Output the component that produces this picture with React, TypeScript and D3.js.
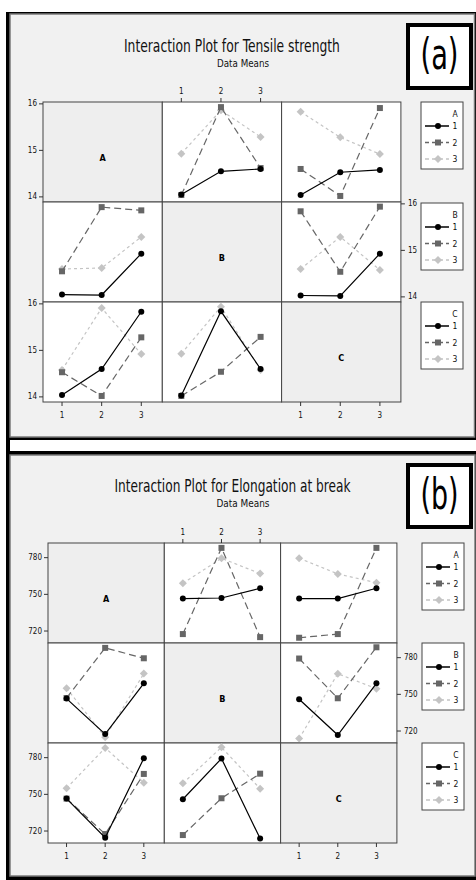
import React from "react";
import * as d3 from "d3";

const factorNames = ["A", "B", "C"];
const levelValues = [1, 2, 3];
const levelLabels = ["1", "2", "3"];

const tensileTitle = "Interaction Plot for Tensile strength";
const elongTitle = "Interaction Plot for Elongation at break";
const subtitleText = "Data Means";

// means[level of first factor][level of second factor]
const tensileAB = [
  [14.05, 14.55, 14.6],
  [14.04, 15.93, 14.62],
  [14.93, 15.86, 15.29],
];
const tensileAC = [
  [14.04, 14.53, 14.58],
  [14.6, 14.02, 15.91],
  [15.83, 15.28, 14.92],
];
const tensileBC = [
  [14.03, 14.02, 14.93],
  [15.84, 14.54, 15.94],
  [14.6, 15.29, 14.58],
];
const tensileTicks = [14, 15, 16];

const elongAB = [
  [746.5, 747, 755],
  [717.5, 788, 715],
  [759, 779.5, 767],
];
const elongAC = [
  [746.5, 746.5, 755],
  [714.5, 717.5, 788],
  [779.5, 766.7, 759.5],
];
const elongBC = [
  [746, 716.7, 759],
  [779.3, 746.8, 788.5],
  [713.8, 766.9, 754.6],
];
const elongTicks = [720, 750, 780];

const FONT = "'Liberation Sans Narrow', 'DejaVu Sans Condensed', 'Roboto Condensed', 'Liberation Sans', sans-serif";

const seriesStyles = [
  { color: "#000000", dash: "none", shape: "circle" },
  { color: "#666666", dash: "7,4", shape: "square" },
  { color: "#c4c4c4", dash: "3,3", shape: "diamond" },
];

function Marker({ x, y, shape, color, s = 1 }: any) {
  if (shape === "circle") return <circle cx={x} cy={y} r={3 * s} fill={color} />;
  if (shape === "square")
    return <rect x={x - 3 * s} y={y - 3 * s} width={6 * s} height={6 * s} fill={color} />;
  const d = 4 * s;
  return <path d={`M${x},${y - d}L${x + d},${y}L${x},${y + d}L${x - d},${y}Z`} fill={color} />;
}

function Figure({ cfg, pairs, ticks, title, tag }: any) {
  const { frame, inner, gx, gy, cw, ch, yDomain, lx, ltops, tagBox, titleY, titleLen, subY, subLen, tickFmt } = cfg;
  const xs = d3.scaleLinear().domain([0.52, 3.53]).range([0, cw]);
  const getMeans = (r: number, c: number) => {
    const key = r < c ? `${r}${c}` : `${c}${r}`;
    const m = pairs[key];
    return levelValues.map((_, i) =>
      levelValues.map((__, j) => (r < c ? m[i][j] : m[j][i]))
    );
  };
  const cells: any[] = [];
  for (let r = 0; r < 3; r++) {
    for (let c = 0; c < 3; c++) {
      const x0 = gx + c * cw;
      const y0 = gy + r * ch;
      const ys = d3.scaleLinear().domain(yDomain).range([y0 + ch, y0]);
      if (r === c) {
        cells.push(
          <g key={`${r}${c}`}>
            <rect x={x0} y={y0} width={cw} height={ch} fill="#eeeeee" stroke="#444" strokeWidth={1} />
            <text x={x0 + cw / 2} y={y0 + ch / 2 + 6} textAnchor="middle" dominantBaseline="central"
              fontFamily={FONT} fontSize={9} fontWeight="bold">{factorNames[r]}</text>
          </g>
        );
        continue;
      }
      const means = getMeans(r, c);
      const line = d3.line<number>().x((_, j) => x0 + xs(levelValues[j])).y((v) => ys(v));
      cells.push(
        <g key={`${r}${c}`}>
          <rect x={x0} y={y0} width={cw} height={ch} fill="#ffffff" stroke="#444" strokeWidth={1} />
          {[2, 1, 0].map((i) => (
            <g key={i}>
              <path d={line(means[i]) as string} fill="none" stroke={seriesStyles[i].color}
                strokeWidth={1.2} strokeDasharray={seriesStyles[i].dash} />
              {means[i].map((v, j) => (
                <Marker key={j} x={x0 + xs(levelValues[j])} y={ys(v)} shape={seriesStyles[i].shape}
                  color={seriesStyles[i].color} />
              ))}
            </g>
          ))}
        </g>
      );
    }
  }
  const axes: any[] = [];
  for (let r = 0; r < 3; r++) {
    const y0 = gy + r * ch;
    const ys = d3.scaleLinear().domain(yDomain).range([y0 + ch, y0]);
    const right = r === 1;
    const ax = right ? gx + 3 * cw : gx;
    ticks.forEach((t: number) => {
      const ty = ys(t);
      axes.push(
        <g key={`y${r}${t}`}>
          <line x1={ax} x2={right ? ax + 4 : ax - 4} y1={ty} y2={ty} stroke="#333" strokeWidth={1} />
          <text x={right ? ax + 7 : ax - 6} y={ty} textAnchor={right ? "start" : "end"}
            dominantBaseline="central" fontFamily={FONT} fontSize={8} fill="#111">{tickFmt(t)}</text>
        </g>
      );
    });
  }
  const xAxisCols = [
    { c: 1, top: true },
    { c: 0, top: false },
    { c: 2, top: false },
  ];
  xAxisCols.forEach(({ c, top }) => {
    const x0 = gx + c * cw;
    const yb = top ? gy : gy + 3 * ch;
    levelValues.forEach((v, j) => {
      const tx = x0 + xs(v);
      axes.push(
        <g key={`x${c}${j}`}>
          <line x1={tx} x2={tx} y1={yb} y2={top ? yb - 4 : yb + 4} stroke="#333" strokeWidth={1} />
          <text x={tx} y={top ? yb - 11 : yb + 13} textAnchor="middle" dominantBaseline="central"
            fontFamily={FONT} fontSize={8} fill="#111">{levelLabels[j]}</text>
        </g>
      );
    });
  });
  const legends = ltops.map((ly: number, r: number) => (
    <g key={`lg${r}`}>
      <rect x={lx} y={ly} width={42} height={67} fill="#ffffff" stroke="#444" strokeWidth={1} />
      <text x={lx + 34} y={ly + 12} textAnchor="middle" dominantBaseline="central" fontFamily={FONT}
        fontSize={8.5} fill="#111">{factorNames[r]}</text>
      {levelLabels.map((lab, i) => {
        const yy = ly + 24 + i * 16.5;
        return (
          <g key={i}>
            <line x1={lx + 4} x2={lx + 28} y1={yy} y2={yy} stroke={seriesStyles[i].color}
              strokeWidth={1.5} strokeDasharray={seriesStyles[i].dash === "none" ? "none" : "4,3"} />
            <Marker x={lx + 17} y={yy} shape={seriesStyles[i].shape} color={seriesStyles[i].color} />
            <text x={lx + 34} y={yy} textAnchor="middle" dominantBaseline="central" fontFamily={FONT}
              fontSize={8.5} fill="#111">{lab}</text>
          </g>
        );
      })}
    </g>
  ));
  return (
    <g>
      <rect x={frame[0]} y={frame[1]} width={frame[2] - frame[0]} height={frame[3] - frame[1]} fill="#000" />
      <rect x={inner[0]} y={inner[1]} width={inner[2] - inner[0]} height={inner[3] - inner[1]}
        fill="#f1f1f1" stroke="#7a7a7a" strokeWidth={1.5} />
      <text x={(gx + gx + 3 * cw) / 2 + 10} y={titleY} textAnchor="middle" fontFamily={FONT} fontSize={17}
        textLength={titleLen} lengthAdjust="spacingAndGlyphs" fill="#111">{title}</text>
      <text x={243} y={subY} textAnchor="middle" fontFamily={FONT} fontSize={10.5}
        textLength={subLen} lengthAdjust="spacingAndGlyphs" fill="#111">{subtitleText}</text>
      {cells}
      {axes}
      {legends}
      <rect x={tagBox[0] + 2} y={tagBox[1] + 2} width={tagBox[2] - 4} height={tagBox[3] - 4} fill="#fff"
        stroke="#000" strokeWidth={4} />
      <text x={tagBox[0] + tagBox[2] / 2} y={tagBox[1] + 46} textAnchor="middle" fontFamily={FONT}
        fontSize={42} textLength={38} lengthAdjust="spacingAndGlyphs" fill="#000">{tag}</text>
    </g>
  );
}

const cfgA = {
  frame: [6, 12, 476, 440],
  inner: [10, 14, 474.5, 437],
  gx: 43, gy: 102, cw: 119.3, ch: 100,
  yDomain: [13.89, 16.04],
  lx: 421, ltops: [102, 203, 302],
  tagBox: [406, 23, 67, 67],
  titleY: 52, titleLen: 216, subY: 67, subLen: 52,
  tickFmt: (t: number) => String(t),
};
const cfgB = {
  frame: [6, 451, 476, 880],
  inner: [10, 455, 475, 876],
  gx: 48, gy: 543, cw: 116.3, ch: 100,
  yDomain: [710.2, 792],
  lx: 422, ltops: [543, 643, 743],
  tagBox: [406, 463, 67, 66],
  titleY: 492, titleLen: 236, subY: 507, subLen: 53,
  tickFmt: (t: number) => String(t),
};

export default function App() {
  return (
    <svg width={476} height={880} style={{ position: "absolute", left: 0, top: 0, background: "#fff" }}>
      <rect x={0} y={0} width={476} height={880} fill="#fff" />
      <rect x={6} y={12} width={4} height={868} fill="#000" />
      <Figure cfg={cfgA} pairs={{ "01": tensileAB, "02": tensileAC, "12": tensileBC }} ticks={tensileTicks}
        title={tensileTitle} tag="(a)" />
      <Figure cfg={cfgB} pairs={{ "01": elongAB, "02": elongAC, "12": elongBC }} ticks={elongTicks}
        title={elongTitle} tag="(b)" />
    </svg>
  );
}
